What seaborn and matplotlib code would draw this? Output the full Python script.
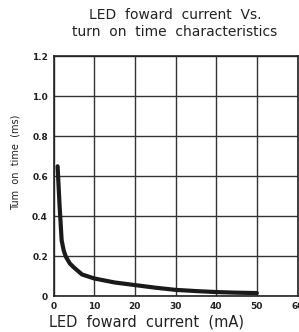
import matplotlib
matplotlib.use("Agg")
import matplotlib.pyplot as plt
import seaborn as sns
import pandas as pd

current_ma = [1, 1.5, 2, 2.5, 3, 4, 5, 7, 10, 15, 20, 25, 30, 35, 40, 45, 50]
turn_on_ms = [0.65, 0.45, 0.28, 0.23, 0.20, 0.165, 0.145, 0.11, 0.09, 0.07,
              0.057, 0.044, 0.033, 0.027, 0.022, 0.019, 0.017]
x_ticks = [0, 10, 20, 30, 40, 50, 60]
y_ticks = [0, 0.2, 0.4, 0.6, 0.8, 1.0, 1.2]
y_tick_labels = ["0", "0.2", "0.4", "0.6", "0.8", "1.0", "1.2"]

df = pd.DataFrame({"current": current_ma, "time": turn_on_ms})

sns.set_style("white")
plt.rcParams["font.family"] = ["DejaVu Sans"]

fig = plt.figure(figsize=(2.99, 3.32), dpi=100)
ax = fig.add_axes([0.179, 0.107, 0.816, 0.724])

sns.lineplot(data=df, x="current", y="time", ax=ax, color="#1a1a1a",
             linewidth=3.0, zorder=5)

ax.set_xlim(0, 60)
ax.set_ylim(0, 1.2)
ax.set_xticks(x_ticks)
ax.set_yticks(y_ticks)
ax.set_yticklabels(y_tick_labels)
ax.grid(True, color="#333333", linewidth=1.0)
ax.set_axisbelow(True)
for s in ax.spines.values():
    s.set_color("#222222")
    s.set_linewidth(1.2)
ax.tick_params(axis="both", length=0, labelsize=6.5, pad=4, colors="#222222")
for lbl in ax.get_xticklabels() + ax.get_yticklabels():
    lbl.set_fontweight("bold")

ax.set_xlabel("LED  foward  current  (mA)", fontsize=10.5, color="#222222")
ax.xaxis.set_label_coords(0.38, -0.075, transform=ax.transAxes)
ax.xaxis.label.set_va("top")
ax.set_ylabel("Tum  on  time  (ms)", fontsize=7, color="#222222")
ax.yaxis.set_label_coords(-0.135, 0.56)

fig.text(0.585, 0.955, "LED  foward  current  Vs.", ha="center", va="center",
         fontsize=10, color="#222222")
fig.text(0.585, 0.905, "turn  on  time  characteristics", ha="center", va="center",
         fontsize=10, color="#222222")

fig.savefig("out.png", dpi=100)
